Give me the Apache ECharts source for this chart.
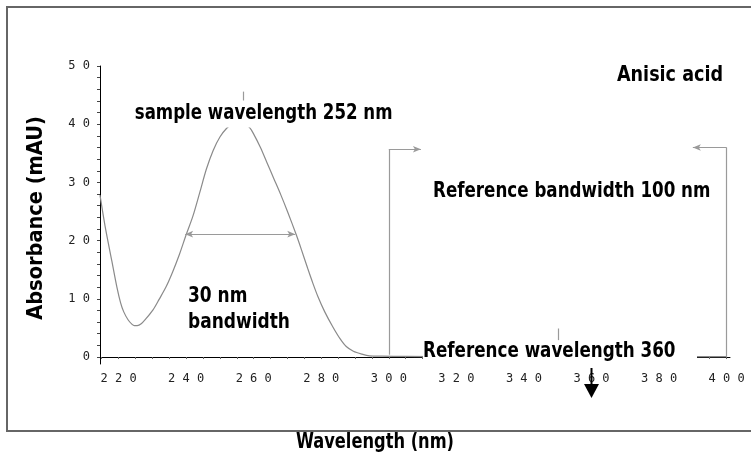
<!DOCTYPE html>
<html>
<head>
<meta charset="utf-8">
<script src="https://cdn.jsdelivr.net/npm/echarts@6/dist/echarts.min.js"></script>
<style>
  html, body { margin: 0; padding: 0; background: #fff; }
  #main { width: 751px; height: 459px; }
</style>
</head>
<body>
<div id="main"></div>
<script>
// spectrum of anisic acid
var wavelength = [214.5, 216, 218, 219.5, 220.6, 221.5, 222.8, 224, 224.7, 225.5, 226.7, 228, 230.2, 232, 234.1,
    236, 238, 240, 242, 244, 246, 248, 250, 252, 254, 255.5, 257, 258.8, 260, 262, 264,
    266, 268, 270, 272.6, 274.1, 276, 277.5, 279, 281, 283.4, 285.5, 287.4, 289.5, 292, 294.3,
    298, 305, 320, 340, 360, 380, 400];
var absorbance = [27.8, 22.5, 16.5, 12, 9.3, 7.8, 6.4, 5.6, 5.4, 5.4, 5.7, 6.5, 8.1, 9.9, 12.1,
    14.6, 17.6, 21, 24.2, 28.2, 32.3, 35.5, 37.8, 39.3, 40.2, 40.5, 40.2, 39.4, 38.3, 36, 33.3,
    30.6, 27.9, 25, 21, 18.5, 15.2, 12.7, 10.4, 7.8, 5.2, 3.2, 1.8, 1.0, 0.5, 0.2,
    0.15, 0.1, 0.05, 0.05, 0.05, 0.05, 0.05];
var xTickLabels = [220, 240, 260, 280, 300, 320, 340, 360, 380, 400];
var yTickLabels = [0, 10, 20, 30, 40, 50];

// annotation anchors (nm, mAU)
var sampleBand = [239.7, 272.3, 21.1];
var refBand = [300, 400];
var sampleMark = 256.8;
var refMark = 350.3;
var refArrow = 360;

var tickFont = "'DejaVu Sans Mono', monospace";
var boldFont = "'DejaVu Sans Condensed', 'DejaVu Sans', sans-serif";

function spaced(v) {
    return String(v).split('').join(' ');
}

var xMinor = [];
for (var t = 215; t <= 400; t += 5) xMinor.push(t);
var yMinor = [];
for (var t = 0; t <= 50; t += 2) yMinor.push(t);

var points = wavelength.map(function (w, i) { return [w, absorbance[i]]; });

var chartDom = document.getElementById('main');
var myChart = echarts.init(chartDom);
var option;

var gray = '#9a9a9a';
option = {
    animation: false,
    grid: { left: 100, right: 21, top: 66, bottom: 95 },
    xAxis: {
        type: 'value',
        min: 214.5,
        max: 401,
        axisLine: { lineStyle: { color: '#000', width: 1 } },
        axisTick: { customValues: xMinor, length: 2, lineStyle: { color: '#666' } },
        axisLabel: {
            customValues: xTickLabels,
            formatter: spaced,
            fontFamily: tickFont,
            fontSize: 12,
            color: '#222',
            margin: 9
        },
        splitLine: { show: false }
    },
    yAxis: {
        type: 'value',
        min: -1.2,
        max: 50,
        axisLine: { show: true, lineStyle: { color: '#000', width: 1 } },
        axisTick: { show: true, customValues: yMinor, length: 3, lineStyle: { color: '#444' } },
        axisLabel: {
            customValues: yTickLabels,
            formatter: spaced,
            fontFamily: tickFont,
            fontSize: 12,
            color: '#222',
            margin: 10
        },
        splitLine: { show: false }
    },
    series: [
        {
            type: 'line',
            data: points,
            showSymbol: false,
            smooth: 0.3,
            clip: false,
            lineStyle: { color: '#8a8a8a', width: 1.2 },
            markLine: {
                silent: true,
                symbol: ['none', 'none'],
                label: { show: false },
                lineStyle: { color: gray, width: 1.2, type: 'solid' },
                data: [
                    [{ coord: [sampleBand[0], sampleBand[2]], symbol: 'arrow', symbolSize: [5, 8] },
                     { coord: [sampleBand[1], sampleBand[2]], symbol: 'arrow', symbolSize: [5, 8] }],
                    [{ coord: [refBand[0], 0.4] }, { coord: [refBand[0], 35.7] }],
                    [{ coord: [refBand[0], 35.7] }, { coord: [refBand[0] + 9.5, 35.7], symbol: 'arrow', symbolSize: [5, 8] }],
                    [{ coord: [refBand[1], 0] }, { coord: [refBand[1], 36] }],
                    [{ coord: [refBand[1], 36] }, { coord: [refBand[1] - 10, 36], symbol: 'arrow', symbolSize: [5, 8] }],
                    [{ coord: [sampleMark, 43.6] }, { coord: [sampleMark, 45.6] }],
                    [{ coord: [refMark, 2.9] }, { coord: [refMark, 4.9] }]
                ]
            }
        }
    ]
};

option && myChart.setOption(option);

// black arrow under the axis at the reference wavelength
var pa = myChart.convertToPixel({ gridIndex: 0 }, [refArrow, -1.2]);

function label(text, x, y, size, align, sx) {
    return {
        type: 'text', z: 60, silent: true,
        x: x, y: y, scaleX: sx,
        style: { text: text, x: 0, y: 0, font: 'bold ' + size + 'px ' + boldFont,
            fill: '#000', align: align, verticalAlign: 'middle' }
    };
}

var sampleLabel = label('sample wavelength 252 nm', 133, 114, 21, 'left', 0.88);
sampleLabel.style.backgroundColor = '#fff';
sampleLabel.style.padding = [1, 2, 5, 2];

var yTitle = label('Absorbance (mAU)', 36, 218, 22, 'center', 0.98);
yTitle.rotation = Math.PI / 2;

myChart.setOption({
    graphic: [
        {
            type: 'rect', z: 0, silent: true,
            shape: { x: 7, y: 7, width: 780, height: 424 },
            style: { fill: 'none', stroke: '#666', lineWidth: 2 }
        },
        {
            type: 'rect', z: 50, silent: true,
            shape: { x: 423, y: 342, width: 274, height: 22.6 },
            style: { fill: '#fff' }
        },
        {
            type: 'line', z: 55, silent: true,
            shape: { x1: pa[0], y1: pa[1] + 4, x2: pa[0], y2: pa[1] + 22 },
            style: { stroke: '#000', lineWidth: 2 }
        },
        {
            type: 'polygon', z: 55, silent: true,
            shape: { points: [[pa[0] - 7.5, pa[1] + 20], [pa[0] + 7.5, pa[1] + 20], [pa[0], pa[1] + 34]] },
            style: { fill: '#000' }
        },
        sampleLabel,
        label('Anisic acid', 723, 76, 21, 'right', 0.93),
        label('Reference bandwidth 100 nm', 433, 192, 21, 'left', 0.885),
        label('30 nm', 188, 297, 21, 'left', 0.9),
        label('bandwidth', 188, 323, 21, 'left', 0.9),
        label('Reference wavelength 360', 423, 352, 21, 'left', 0.887),
        yTitle,
        label('Wavelength (nm)', 375, 443, 21, 'center', 0.86)
    ]
});
</script>
</body>
</html>
